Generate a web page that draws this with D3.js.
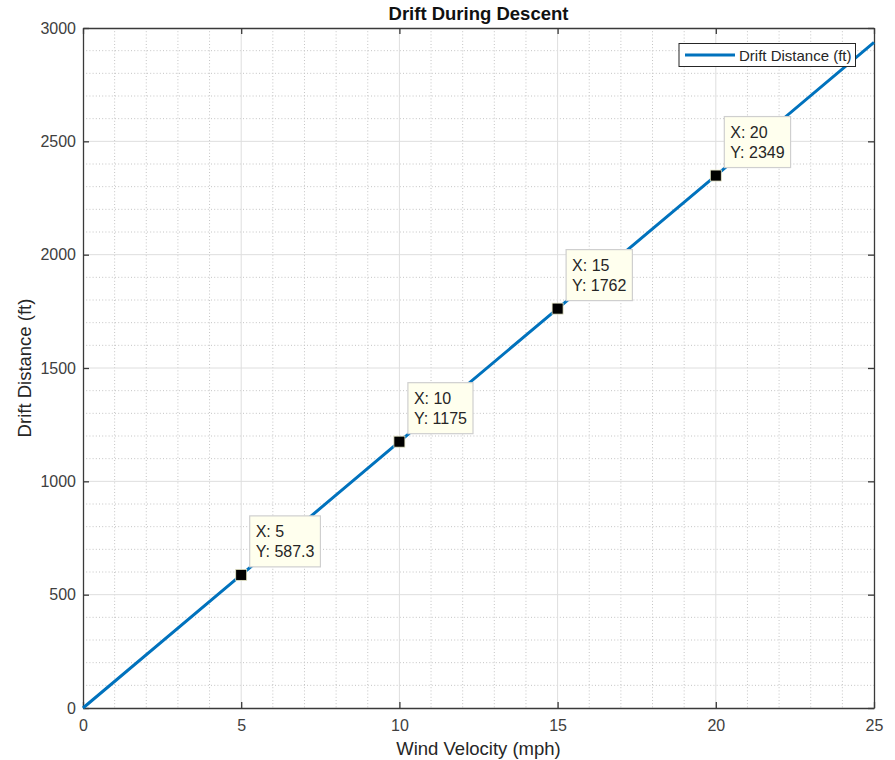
<!DOCTYPE html>
<html><head><meta charset="utf-8">
<script src="https://cdn.jsdelivr.net/npm/d3@7"></script>
<style>
html,body{margin:0;padding:0;background:#fff;}
text{font-family:"Liberation Sans",Arial,Helvetica,sans-serif;}
</style></head>
<body><svg id="chart" width="895" height="760"></svg>
<script>
// ---- data ----
const windVelocity = [0, 5, 10, 15, 20, 25];
const driftDistance = [0, 587.3, 1175, 1762, 2349, 2937];
const tipX = [5, 10, 15, 20];
const tipY = [587.3, 1175, 1762, 2349];
const tipYLabels = ["587.3", "1175", "1762", "2349"];
const xTicks = [0, 5, 10, 15, 20, 25];
const yTicks = [0, 500, 1000, 1500, 2000, 2500, 3000];
const xMinor = d3.range(0, 25.001, 1);
const yMinor = d3.range(0, 3000.1, 100);
const seriesName = "Drift Distance (ft)";

const svg = d3.select("#chart");
const L = 83, R = 874, T = 28, B = 708;
const x = d3.scaleLinear().domain([0, 25]).range([L, R]);
const y = d3.scaleLinear().domain([0, 3000]).range([B, T]);
const axisCol = "#3a3a3a";

// minor grid (dotted)
svg.append("g").selectAll("line").data(xMinor.filter(v => v % 5 !== 0)).join("line")
  .attr("x1", d => x(d)).attr("x2", d => x(d)).attr("y1", T).attr("y2", B)
  .attr("stroke", "#c4c4c4").attr("stroke-width", 1).attr("stroke-dasharray", "1,2.2");
svg.append("g").selectAll("line").data(yMinor.filter(v => v % 500 !== 0)).join("line")
  .attr("y1", d => y(d)).attr("y2", d => y(d)).attr("x1", L).attr("x2", R)
  .attr("stroke", "#c4c4c4").attr("stroke-width", 1).attr("stroke-dasharray", "1,2.2");
// major grid
svg.append("g").selectAll("line").data(xTicks.slice(1, -1)).join("line")
  .attr("x1", d => x(d)).attr("x2", d => x(d)).attr("y1", T).attr("y2", B)
  .attr("stroke", "#dedede").attr("stroke-width", 1);
svg.append("g").selectAll("line").data(yTicks.slice(1, -1)).join("line")
  .attr("y1", d => y(d)).attr("y2", d => y(d)).attr("x1", L).attr("x2", R)
  .attr("stroke", "#dedede").attr("stroke-width", 1);

// axes
const fmt = d3.format("d");
const xAxis = svg.append("g").attr("transform", `translate(0,${B})`)
  .call(d3.axisBottom(x).tickValues(xTicks).tickFormat(fmt).tickSizeInner(-6).tickSizeOuter(0).tickPadding(12));
const xAxisTop = svg.append("g").attr("transform", `translate(0,${T})`)
  .call(d3.axisTop(x).tickValues(xTicks).tickFormat("").tickSizeInner(-6).tickSizeOuter(0));
const yAxis = svg.append("g").attr("transform", `translate(${L},0)`)
  .call(d3.axisLeft(y).tickValues(yTicks).tickFormat(fmt).tickSizeInner(-6).tickSizeOuter(0).tickPadding(7));
const yAxisR = svg.append("g").attr("transform", `translate(${R},0)`)
  .call(d3.axisRight(y).tickValues(yTicks).tickFormat("").tickSizeInner(-6).tickSizeOuter(0));
[xAxis, xAxisTop, yAxis, yAxisR].forEach(g => {
  g.select(".domain").attr("stroke", axisCol).attr("stroke-width", 1.3);
  g.selectAll(".tick line").attr("stroke", axisCol).attr("stroke-width", 1.3);
  g.selectAll(".tick text").attr("fill", "#404040").style("font-size", "16px")
    .style("font-family", '"Liberation Sans",Arial,sans-serif');
});

// line
const line = d3.line().x((d, i) => x(windVelocity[i])).y(d => y(d));
svg.append("path").datum(driftDistance).attr("d", line)
  .attr("fill", "none").attr("stroke", "#0072BD").attr("stroke-width", 3);

// markers
svg.append("g").selectAll("rect").data(tipX).join("rect")
  .attr("x", (d) => x(d) - 5.5).attr("y", (d, i) => y(tipY[i]) - 5.5)
  .attr("width", 11).attr("height", 11).attr("fill", "#000")
  .attr("stroke", "#e8e8c8").attr("stroke-width", 0.8);

// datatips
tipX.forEach((d, i) => {
  const px = x(d), py = y(tipY[i]);
  const g = svg.append("g").attr("transform", `translate(${px + 8.5},${py - 59})`);
  const rect = g.append("rect").attr("fill", "#ffffee").attr("stroke", "#cfcfcf").attr("stroke-width", 1.2);
  const t1 = g.append("text").attr("x", 6).attr("y", 21).text("X: " + d)
    .attr("fill", "#262626").style("font-size", "16px");
  const t2 = g.append("text").attr("x", 6).attr("y", 41).text("Y: " + tipYLabels[i])
    .attr("fill", "#262626").style("font-size", "16px");
  const w = Math.max(t1.node().getComputedTextLength(), t2.node().getComputedTextLength());
  rect.attr("x", 0).attr("y", 0).attr("width", w + 12).attr("height", 51);
});

// legend
const lg = svg.append("g");
lg.append("rect").attr("x", 679).attr("y", 43.5).attr("width", 176.5).attr("height", 23)
  .attr("fill", "#fff").attr("stroke", "#262626").attr("stroke-width", 1);
lg.append("line").attr("x1", 685).attr("x2", 735).attr("y1", 55).attr("y2", 55)
  .attr("stroke", "#0072BD").attr("stroke-width", 3);
lg.append("text").attr("x", 739).attr("y", 60.5).text(seriesName)
  .attr("fill", "#262626").style("font-size", "15px");

// title and labels
svg.append("text").attr("x", (L + R) / 2).attr("y", 20).attr("text-anchor", "middle")
  .style("font-size", "18.5px").style("font-weight", "bold").attr("fill", "#111")
  .text("Drift During Descent");
svg.append("text").attr("x", (L + R) / 2).attr("y", 755).attr("text-anchor", "middle")
  .style("font-size", "18.5px").attr("fill", "#262626").text("Wind Velocity (mph)");
svg.append("text").attr("transform", `translate(31,${(T + B) / 2}) rotate(-90)`)
  .attr("text-anchor", "middle").style("font-size", "18.5px").attr("fill", "#262626")
  .text("Drift Distance (ft)");
</script></body></html>
